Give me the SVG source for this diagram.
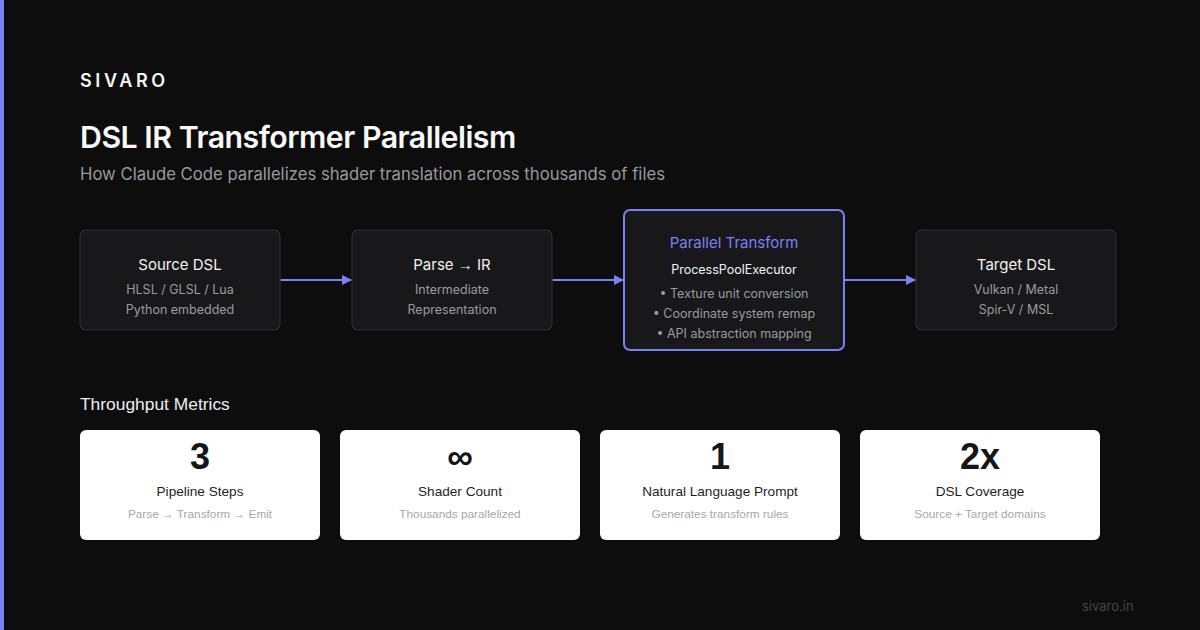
<svg xmlns="http://www.w3.org/2000/svg" width="1200" height="630" viewBox="0 0 1200 630">
<defs>
<marker id="arr" markerWidth="10" markerHeight="10" refX="10" refY="5" orient="auto" markerUnits="userSpaceOnUse">
<path d="M0,0 L10,5 L0,10 z" fill="#7b80f5"/>
</marker>
<style>
text{font-family:Inter,"Liberation Sans",sans-serif}
.ar{font-family:"Liberation Sans",Arial,sans-serif}
.box{fill:#18181b;stroke:#2c2c31;stroke-width:1.2}
.hl{fill:#18181b;stroke:#7b80f5;stroke-width:2}
.nt{fill:#f2f2f2;font-size:15px;text-anchor:middle}
.ns{fill:#9a9aa0;font-size:12.5px;text-anchor:middle}
.card{fill:#ffffff}
.big{fill:#161616;font-size:36px;font-weight:700;text-anchor:middle;font-family:"Liberation Sans",Arial,sans-serif}
.cl{fill:#1e1e1e;font-size:13.6px;text-anchor:middle;font-family:"Liberation Sans",Arial,sans-serif}
.cs{fill:#a3a7b2;font-size:11.8px;text-anchor:middle;font-family:"Liberation Sans",Arial,sans-serif}
.conn{stroke:#7b80f5;stroke-width:2;fill:none}
</style>
</defs>
<rect x="0" y="0" width="1200" height="630" fill="#0d0d0d"/>
<rect x="0" y="0" width="4" height="630" fill="#7b80f5"/>
<text x="80" y="87" fill="#f4f4f4" font-size="18" font-weight="600" letter-spacing="3.6">SIVARO</text>
<text x="80" y="148" fill="#f7f7f7" font-size="30.3" font-weight="600" letter-spacing="-0.5">DSL IR Transformer Parallelism</text>
<text x="80" y="180" fill="#9a9a9f" font-size="16.7">How Claude Code parallelizes shader translation across thousands of files</text>
<g id="connectors">
<line class="conn" x1="280" y1="280" x2="352" y2="280" marker-end="url(#arr)"/>
<line class="conn" x1="552" y1="280" x2="624" y2="280" marker-end="url(#arr)"/>
<line class="conn" x1="844" y1="280" x2="916" y2="280" marker-end="url(#arr)"/>
</g>
<g id="source">
<rect class="box" x="80" y="230" width="200" height="100" rx="6"/>
<text class="nt" x="180" y="270">Source DSL</text>
<text class="ns" x="180" y="294">HLSL / GLSL / Lua</text>
<text class="ns" x="180" y="314">Python embedded</text>
</g>
<g id="parse">
<rect class="box" x="352" y="230" width="200" height="100" rx="6"/>
<text class="nt" x="452" y="270">Parse <tspan class="ar">→</tspan> IR</text>
<text class="ns" x="452" y="294">Intermediate</text>
<text class="ns" x="452" y="314">Representation</text>
</g>
<g id="transform">
<rect class="hl" x="624" y="210" width="220" height="140" rx="6"/>
<text class="nt" x="734" y="248" style="fill:#7b80f5">Parallel Transform</text>
<text x="734" y="274" fill="#f2f2f2" font-size="12.5" text-anchor="middle">ProcessPoolExecutor</text>
<text class="ns" x="734" y="298">• Texture unit conversion</text>
<text class="ns" x="734" y="318">• Coordinate system remap</text>
<text class="ns" x="734" y="338">• API abstraction mapping</text>
</g>
<g id="target">
<rect class="box" x="916" y="230" width="200" height="100" rx="6"/>
<text class="nt" x="1016" y="270">Target DSL</text>
<text class="ns" x="1016" y="294">Vulkan / Metal</text>
<text class="ns" x="1016" y="314">Spir-V / MSL</text>
</g>
<text class="ar" x="80" y="410" fill="#eeeeee" font-size="17.4">Throughput Metrics</text>
<g id="m1">
<rect class="card" x="80" y="430" width="240" height="110" rx="6"/>
<text class="big" x="200" y="469">3</text>
<text class="cl" x="200" y="496">Pipeline Steps</text>
<text class="cs" x="200" y="518">Parse → Transform → Emit</text>
</g>
<g id="m2">
<rect class="card" x="340" y="430" width="240" height="110" rx="6"/>
<text class="big" x="460" y="469">∞</text>
<text class="cl" x="460" y="496">Shader Count</text>
<text class="cs" x="460" y="518">Thousands parallelized</text>
</g>
<g id="m3">
<rect class="card" x="600" y="430" width="240" height="110" rx="6"/>
<text class="big" x="720" y="469">1</text>
<text class="cl" x="720" y="496">Natural Language Prompt</text>
<text class="cs" x="720" y="518">Generates transform rules</text>
</g>
<g id="m4">
<rect class="card" x="860" y="430" width="240" height="110" rx="6"/>
<text class="big" x="980" y="469">2x</text>
<text class="cl" x="980" y="496">DSL Coverage</text>
<text class="cs" x="980" y="518">Source + Target domains</text>
</g>
<text x="1082" y="611" fill="#444448" font-size="13">sivaro.in</text>
</svg>
